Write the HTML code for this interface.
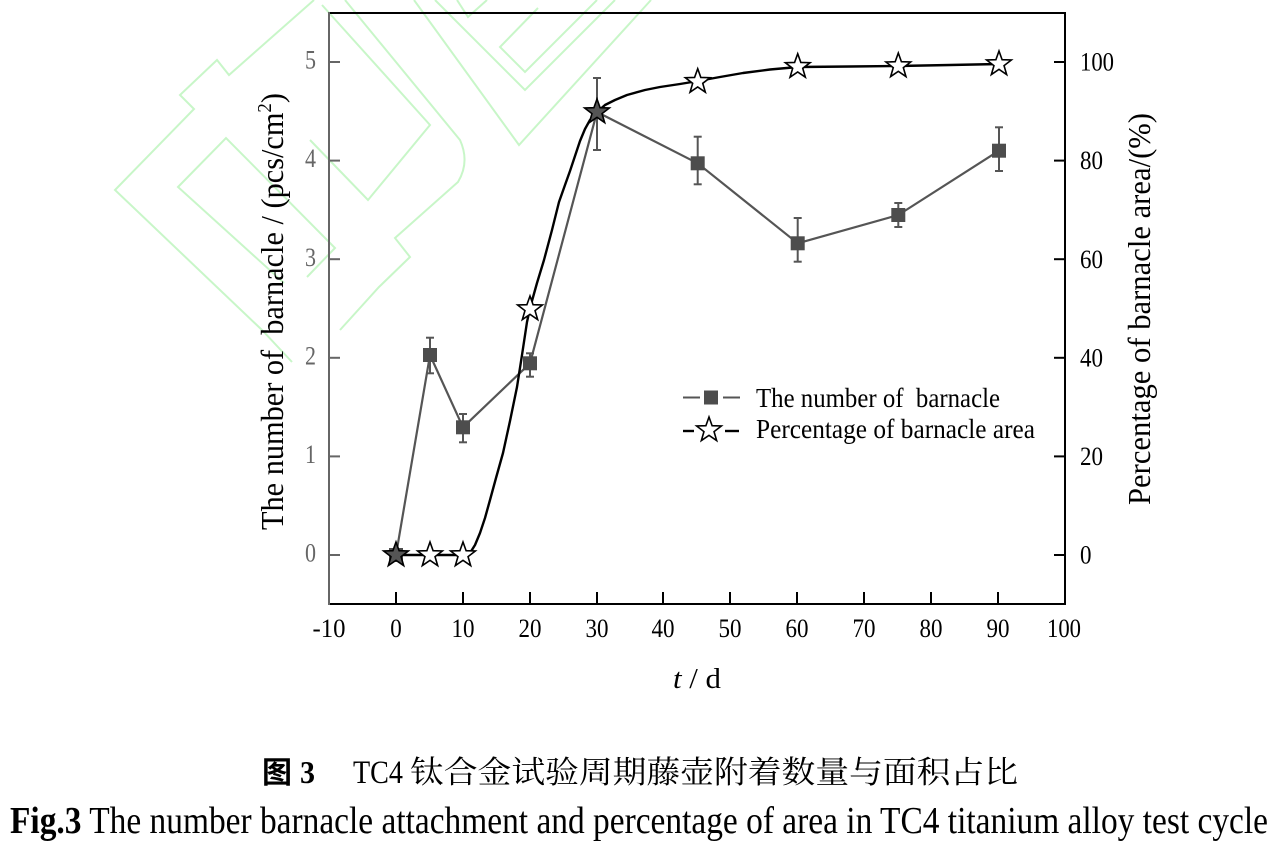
<!DOCTYPE html>
<html>
<head>
<meta charset="utf-8">
<style>
  html,body{margin:0;padding:0;background:#fff;}
  svg{display:block;}
  text{font-family:"Liberation Serif","Noto Serif CJK SC",serif;white-space:pre;}
</style>
</head>
<body>
<svg width="1282" height="847" viewBox="0 0 1282 847" xmlns="http://www.w3.org/2000/svg">
  <rect width="1282" height="847" fill="#fff"/>
  <defs>
    <path id="star" d="M0,-13 L3.115,-4.288 L12.364,-4.017 L5.041,1.638 L7.641,10.517 L0,5.3 L-7.641,10.517 L-5.041,1.638 L-12.364,-4.017 L-3.115,-4.288 Z"/>
  </defs>

  <!-- watermark -->
  <g fill="none" stroke="#c8f6c8" stroke-width="2" stroke-linejoin="miter">
    <path d="M314,0 L229,75 L217,60 L180,95 L194,109 L115,190 L262,330 L292,362"/>
    <path d="M284,283 L178,187 L226,138 L335,248 L307,277"/>
    <path d="M322,5 L430,125 L368,200 L310,140"/>
    <path d="M345,0 L460,140 Q470,162 458,182 L395,238 L410,257 L379,287 L340,330"/>
    <path d="M414,0 L519,145 L651,0"/>
    <path d="M435,0 L525,90 L615,0"/>
    <path d="M538,8 L500,47 L525,72 L597,0"/>
    <path d="M457,0 L468,17 L487,0"/>
  </g>

  <!-- frame -->
  <line x1="328" y1="13" x2="1066" y2="13" stroke="#000" stroke-width="2"/>
  <line x1="1065" y1="12" x2="1065" y2="605" stroke="#000" stroke-width="2"/>
  <line x1="328" y1="604" x2="1066" y2="604" stroke="#000" stroke-width="2"/>
  <line x1="329" y1="12" x2="329" y2="605" stroke="#666" stroke-width="2"/>

  <!-- left ticks -->
  <g stroke="#666" stroke-width="2">
    <line x1="329" y1="62" x2="340" y2="62"/>
    <line x1="329" y1="160.6" x2="340" y2="160.6"/>
    <line x1="329" y1="259.2" x2="340" y2="259.2"/>
    <line x1="329" y1="357.8" x2="340" y2="357.8"/>
    <line x1="329" y1="456.4" x2="340" y2="456.4"/>
    <line x1="329" y1="555" x2="340" y2="555"/>
  </g>
  <!-- right ticks -->
  <g stroke="#000" stroke-width="2">
    <line x1="1054" y1="62" x2="1065" y2="62"/>
    <line x1="1054" y1="160.6" x2="1065" y2="160.6"/>
    <line x1="1054" y1="259.2" x2="1065" y2="259.2"/>
    <line x1="1054" y1="357.8" x2="1065" y2="357.8"/>
    <line x1="1054" y1="456.4" x2="1065" y2="456.4"/>
    <line x1="1054" y1="555" x2="1065" y2="555"/>
  </g>
  <!-- bottom ticks -->
  <g stroke="#000" stroke-width="2">
    <line x1="396" y1="604" x2="396" y2="592"/>
    <line x1="463" y1="604" x2="463" y2="592"/>
    <line x1="530" y1="604" x2="530" y2="592"/>
    <line x1="597" y1="604" x2="597" y2="592"/>
    <line x1="663" y1="604" x2="663" y2="592"/>
    <line x1="730" y1="604" x2="730" y2="592"/>
    <line x1="797" y1="604" x2="797" y2="592"/>
    <line x1="864" y1="604" x2="864" y2="592"/>
    <line x1="931" y1="604" x2="931" y2="592"/>
    <line x1="998" y1="604" x2="998" y2="592"/>
  </g>

  <!-- left tick labels -->
  <g font-size="26" fill="#666" text-anchor="end">
    <text x="316" y="68.6" textLength="11" lengthAdjust="spacingAndGlyphs">5</text>
    <text x="316" y="167.2" textLength="11" lengthAdjust="spacingAndGlyphs">4</text>
    <text x="316" y="265.8" textLength="11" lengthAdjust="spacingAndGlyphs">3</text>
    <text x="316" y="364.4" textLength="11" lengthAdjust="spacingAndGlyphs">2</text>
    <text x="316" y="463" textLength="11" lengthAdjust="spacingAndGlyphs">1</text>
    <text x="316" y="561.6" textLength="11" lengthAdjust="spacingAndGlyphs">0</text>
  </g>
  <!-- right tick labels -->
  <g font-size="26" fill="#000">
    <text x="1080" y="70.6" textLength="34" lengthAdjust="spacingAndGlyphs">100</text>
    <text x="1080" y="169.2" textLength="23" lengthAdjust="spacingAndGlyphs">80</text>
    <text x="1080" y="267.8" textLength="23" lengthAdjust="spacingAndGlyphs">60</text>
    <text x="1080" y="366.4" textLength="23" lengthAdjust="spacingAndGlyphs">40</text>
    <text x="1080" y="465" textLength="23" lengthAdjust="spacingAndGlyphs">20</text>
    <text x="1080" y="563.6" textLength="11.5" lengthAdjust="spacingAndGlyphs">0</text>
  </g>
  <!-- bottom tick labels -->
  <g font-size="26" fill="#000" text-anchor="middle">
    <text x="329" y="637" textLength="33" lengthAdjust="spacingAndGlyphs">-10</text>
    <text x="396" y="637" textLength="11.5" lengthAdjust="spacingAndGlyphs">0</text>
    <text x="463" y="637" textLength="23" lengthAdjust="spacingAndGlyphs">10</text>
    <text x="530" y="637" textLength="23" lengthAdjust="spacingAndGlyphs">20</text>
    <text x="597" y="637" textLength="23" lengthAdjust="spacingAndGlyphs">30</text>
    <text x="663" y="637" textLength="23" lengthAdjust="spacingAndGlyphs">40</text>
    <text x="730" y="637" textLength="23" lengthAdjust="spacingAndGlyphs">50</text>
    <text x="797" y="637" textLength="23" lengthAdjust="spacingAndGlyphs">60</text>
    <text x="864" y="637" textLength="23" lengthAdjust="spacingAndGlyphs">70</text>
    <text x="931" y="637" textLength="23" lengthAdjust="spacingAndGlyphs">80</text>
    <text x="998" y="637" textLength="23" lengthAdjust="spacingAndGlyphs">90</text>
    <text x="1064" y="637" textLength="34" lengthAdjust="spacingAndGlyphs">100</text>
  </g>

  <!-- axis titles -->
  <text x="673" y="688" font-size="28" fill="#000" textLength="48" lengthAdjust="spacingAndGlyphs"><tspan font-style="italic">t</tspan> / d</text>
  <text transform="translate(283,311.5) rotate(-90)" text-anchor="middle" font-size="32" fill="#000" textLength="437" lengthAdjust="spacingAndGlyphs">The number of  barnacle / (pcs/cm<tspan font-size="20" dy="-12">2</tspan><tspan dy="12">)</tspan></text>
  <text transform="translate(1150,309) rotate(-90)" text-anchor="middle" font-size="32" fill="#000" textLength="392" lengthAdjust="spacingAndGlyphs">Percentage of barnacle area/(%)</text>

  <!-- number of barnacle series -->
  <polyline fill="none" stroke="#555" stroke-width="2.2" stroke-linejoin="round"
    points="396,555 430,355 463,427.3 530,363.3 597,112 697.7,163.3 797.7,243.3 898.3,215 999,150.7"/>
  <g stroke="#555" stroke-width="2">
    <line x1="430" y1="337.7" x2="430" y2="373.3"/><line x1="426" y1="337.7" x2="434" y2="337.7"/><line x1="426" y1="373.3" x2="434" y2="373.3"/>
    <line x1="463" y1="414" x2="463" y2="442.3"/><line x1="459" y1="414" x2="467" y2="414"/><line x1="459" y1="442.3" x2="467" y2="442.3"/>
    <line x1="530" y1="353.3" x2="530" y2="376.7"/><line x1="526" y1="353.3" x2="534" y2="353.3"/><line x1="526" y1="376.7" x2="534" y2="376.7"/>
    <line x1="597" y1="78" x2="597" y2="150"/><line x1="593" y1="78" x2="601" y2="78"/><line x1="593" y1="150" x2="601" y2="150"/>
    <line x1="697.7" y1="136.7" x2="697.7" y2="184.3"/><line x1="693.7" y1="136.7" x2="701.7" y2="136.7"/><line x1="693.7" y1="184.3" x2="701.7" y2="184.3"/>
    <line x1="797.7" y1="218" x2="797.7" y2="261.7"/><line x1="793.7" y1="218" x2="801.7" y2="218"/><line x1="793.7" y1="261.7" x2="801.7" y2="261.7"/>
    <line x1="898.3" y1="203" x2="898.3" y2="227"/><line x1="894.3" y1="203" x2="902.3" y2="203"/><line x1="894.3" y1="227" x2="902.3" y2="227"/>
    <line x1="999" y1="127.3" x2="999" y2="171"/><line x1="995" y1="127.3" x2="1003" y2="127.3"/><line x1="995" y1="171" x2="1003" y2="171"/>
  </g>
  <g fill="#4d4d4d">
    <rect x="389" y="548" width="14" height="14"/>
    <rect x="423" y="348" width="14" height="14"/>
    <rect x="456" y="420.3" width="14" height="14"/>
    <rect x="523" y="356.3" width="14" height="14"/>
    <rect x="690.7" y="156.3" width="14" height="14"/>
    <rect x="790.7" y="236.3" width="14" height="14"/>
    <rect x="891.3" y="208" width="14" height="14"/>
    <rect x="992" y="143.7" width="14" height="14"/>
  </g>

  <!-- percentage curve -->
  <polyline fill="none" stroke="#000" stroke-width="2.4" stroke-linejoin="round" stroke-linecap="round"
    points="396,555 466,555 470,553 475,545 480,533 485,518 490,500 496,478 503,453 510,421 517,387 522,355 527,322 530,308 537,283 544,260 552,230 559,202 565,185 570,171 575,156 580,141 585,129 590,120 597,112 605,105 615,100 627,95 645,90 660,87 680,84 698,81 720,77 743,73 770,69.5 798,67 850,66.5 898,66 950,65 999,64"/>
  <g stroke="#000" stroke-width="1.6" stroke-linejoin="miter">
    <use href="#star" x="396" y="555" fill="#555"/>
    <use href="#star" x="430" y="555" fill="#fff"/>
    <use href="#star" x="463" y="555" fill="#fff"/>
    <use href="#star" x="530" y="309" fill="#fff"/>
    <use href="#star" x="597" y="112" fill="#555"/>
    <use href="#star" x="697.7" y="81.7" fill="#fff"/>
    <use href="#star" x="797.7" y="66.7" fill="#fff"/>
    <use href="#star" x="898.3" y="66" fill="#fff"/>
    <use href="#star" x="999" y="64" fill="#fff"/>
  </g>

  <!-- legend -->
  <line x1="683" y1="397.5" x2="700" y2="397.5" stroke="#555" stroke-width="2"/>
  <rect x="704" y="390.5" width="14" height="14" fill="#4d4d4d"/>
  <line x1="723" y1="397.5" x2="740" y2="397.5" stroke="#555" stroke-width="2"/>
  <text x="756" y="407" font-size="27" fill="#000" textLength="244" lengthAdjust="spacingAndGlyphs">The number of  barnacle</text>
  <line x1="683" y1="431" x2="694" y2="431" stroke="#000" stroke-width="2.4"/>
  <use href="#star" x="709" y="430" fill="#fff" stroke="#000" stroke-width="1.6"/>
  <line x1="725" y1="431" x2="739" y2="431" stroke="#000" stroke-width="2.4"/>
  <text x="756" y="438" font-size="27" fill="#000" textLength="279" lengthAdjust="spacingAndGlyphs">Percentage of barnacle area</text>

  <!-- captions -->
  <text x="262" y="783" font-size="30" font-weight="bold" fill="#000" style="font-family:'Noto Sans CJK SC',sans-serif;">图</text>
  <text x="300" y="783" font-size="32" font-weight="bold" fill="#000" textLength="15" lengthAdjust="spacingAndGlyphs">3</text>
  <text x="353" y="783" font-size="33" fill="#000" textLength="50" lengthAdjust="spacingAndGlyphs">TC4</text>
  <text x="410" y="783" font-size="31" fill="#000" textLength="608" lengthAdjust="spacingAndGlyphs" style="font-family:'Noto Serif CJK SC','Noto Sans CJK SC',serif;">钛合金试验周期藤壶附着数量与面积占比</text>

  <text x="10" y="833" font-size="38" fill="#000" textLength="1258" lengthAdjust="spacingAndGlyphs"><tspan font-weight="bold">Fig.3</tspan> The number barnacle attachment and percentage of area in TC4 titanium alloy test cycle</text>
</svg>
</body>
</html>
